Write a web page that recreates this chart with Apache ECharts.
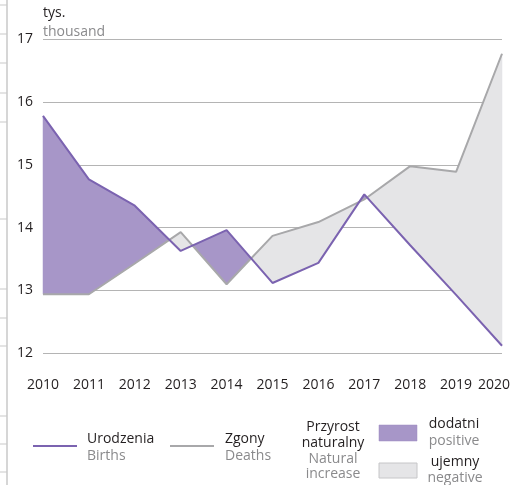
<!DOCTYPE html>
<html>
<head>
<meta charset="utf-8">
<title>Urodzenia i zgony</title>
<script src="https://cdn.jsdelivr.net/npm/echarts@6/dist/echarts.min.js"></script>
<style>
    html, body { margin: 0; padding: 0; background: #fff; }
    #chart { width: 513px; height: 485px; }
</style>
</head>
<body>
<div id="chart"></div>
<script>
// dane (tys.)
const years = ['2010', '2011', '2012', '2013', '2014', '2015', '2016', '2017', '2018', '2019', '2020'];
const births = [15.78, 14.77, 14.35, 13.63, 13.96, 13.12, 13.44, 14.53, 13.72, 12.93, 12.12];
const deaths = [12.94, 12.94, 13.43, 13.93, 13.10, 13.87, 14.09, 14.45, 14.98, 14.89, 16.77];

// kolory
const PURPLE = '#7b63b0';
const PURPLE_FILL = '#a796c8';
const GREY = '#a8a8aa';
const GREY_FILL = '#e5e5e7';
const TEXT = '#231f20';
const TEXT_GREY = '#8a8a8c';
const FONT = '"Open Sans", sans-serif';

const chart = echarts.init(document.getElementById('chart'));

// wypełnienie między liniami (przyrost naturalny dodatni / ujemny)
// rysowane raz, jako jeden wielokąt na każdy odcinek o stałym znaku
function renderGap(params, api) {
    if (params.dataIndex !== 0) return null;
    const B = births.map((v, i) => api.coord([i, v]));
    const D = deaths.map((v, i) => api.coord([i, v]));
    const diff = births.map((v, i) => v - deaths[i]);
    const regions = [];
    let top = [B[0]], bottom = [D[0]], sign = diff[0] >= 0 ? 1 : -1;
    for (let i = 1; i < years.length; i++) {
        const s = diff[i] >= 0 ? 1 : -1;
        if (s !== sign) {
            const t = diff[i - 1] / (diff[i - 1] - diff[i]);
            const p = [B[i - 1][0] + (B[i][0] - B[i - 1][0]) * t, B[i - 1][1] + (B[i][1] - B[i - 1][1]) * t];
            top.push(p);
            regions.push({ sign: sign, points: top.concat(bottom.slice().reverse()) });
            top = [p];
            bottom = [p];
            sign = s;
        }
        top.push(B[i]);
        bottom.push(D[i]);
    }
    regions.push({ sign: sign, points: top.concat(bottom.slice().reverse()) });
    return {
        type: 'group',
        children: regions.map(r => {
            const c = r.sign > 0 ? PURPLE_FILL : GREY_FILL;
            return { type: 'polygon', shape: { points: r.points }, style: { fill: c, stroke: c, lineWidth: 0.5 } };
        })
    };
}

// lewa krawędź (ramka strony)
const edgeTicks = [5, 34, 63, 93, 122, 219, 289, 318, 346, 416, 444, 472];
const graphics = [
    { type: 'line', shape: { x1: 7, y1: 0, x2: 7, y2: 485 }, style: { stroke: '#c9c9c9', lineWidth: 1.5 } }
];
edgeTicks.forEach(y => {
    graphics.push({ type: 'line', shape: { x1: 0, y1: y, x2: 7, y2: y }, style: { stroke: '#c9c9c9', lineWidth: 1 } });
});

function txt(x, y, text, color, align) {
    return {
        type: 'text', x: x, y: y,
        style: {
            text: text, fill: color, font: '14px ' + FONT,
            align: align || 'left', verticalAlign: 'middle'
        }
    };
}

graphics.push(
    txt(43, 13, 'tys.', TEXT),
    txt(43, 32, 'thousand', TEXT_GREY),
    // legenda
    { type: 'line', shape: { x1: 33, y1: 446, x2: 77, y2: 446 }, style: { stroke: PURPLE, lineWidth: 2 } },
    txt(87, 439, 'Urodzenia', TEXT),
    txt(87, 456, 'Births', TEXT_GREY),
    { type: 'line', shape: { x1: 170, y1: 446, x2: 214, y2: 446 }, style: { stroke: GREY, lineWidth: 2 } },
    txt(225, 439, 'Zgony', TEXT),
    txt(225, 456, 'Deaths', TEXT_GREY),
    txt(333, 427, 'Przyrost', TEXT, 'center'),
    txt(333, 443, 'naturalny', TEXT, 'center'),
    txt(333, 459, 'Natural', TEXT_GREY, 'center'),
    txt(333, 474, 'increase', TEXT_GREY, 'center'),
    { type: 'rect', shape: { x: 379, y: 425, width: 38, height: 16 }, style: { fill: PURPLE_FILL, stroke: '#9c8bc0', lineWidth: 0.5 } },
    { type: 'rect', shape: { x: 379, y: 463, width: 38, height: 15 }, style: { fill: GREY_FILL, stroke: '#c6c6c8', lineWidth: 1 } },
    txt(454, 424, 'dodatni', TEXT, 'center'),
    txt(454, 441, 'positive', TEXT_GREY, 'center'),
    txt(455, 462, 'ujemny', TEXT, 'center'),
    txt(455, 478, 'negative', TEXT_GREY, 'center')
);

const option = {
    animation: false,
    backgroundColor: '#fff',
    textStyle: { fontFamily: FONT },
    grid: { left: 43, right: 10, top: 39.3, bottom: 131.7, containLabel: false },
    xAxis: {
        type: 'category',
        data: years,
        boundaryGap: false,
        axisLine: { show: false },
        axisTick: { show: false },
        splitLine: { show: false },
        axisLabel: {
            interval: 0,
            margin: 25,
            color: TEXT,
            fontSize: 14,
            fontFamily: FONT,
            formatter: (v, i) => i === years.length - 1 ? '{s|' + v + '}' : v,
            rich: { s: { padding: [0, 16, 0, 0], color: TEXT, fontSize: 14, fontFamily: FONT } }
        }
    },
    yAxis: {
        type: 'value',
        min: 12,
        max: 17,
        interval: 1,
        axisLine: { show: false },
        axisTick: { show: false },
        axisLabel: { color: TEXT, fontSize: 14, fontFamily: FONT, margin: 10 },
        splitLine: { lineStyle: { color: '#b4b4b4', width: 1 } }
    },
    series: [
        {
            name: 'Przyrost naturalny',
            type: 'custom',
            renderItem: renderGap,
            data: years.map((y, i) => [i, births[i], deaths[i]]),
            encode: { x: 0, y: [1, 2] },
            z: 1,
            silent: true
        },
        {
            name: 'Zgony',
            type: 'line',
            data: deaths,
            symbol: 'none',
            lineStyle: { color: GREY, width: 2 },
            z: 2
        },
        {
            name: 'Urodzenia',
            type: 'line',
            data: births,
            symbol: 'none',
            lineStyle: { color: PURPLE, width: 2 },
            z: 3
        }
    ],
    graphic: { elements: graphics }
};

chart.setOption(option);
</script>
</body>
</html>
